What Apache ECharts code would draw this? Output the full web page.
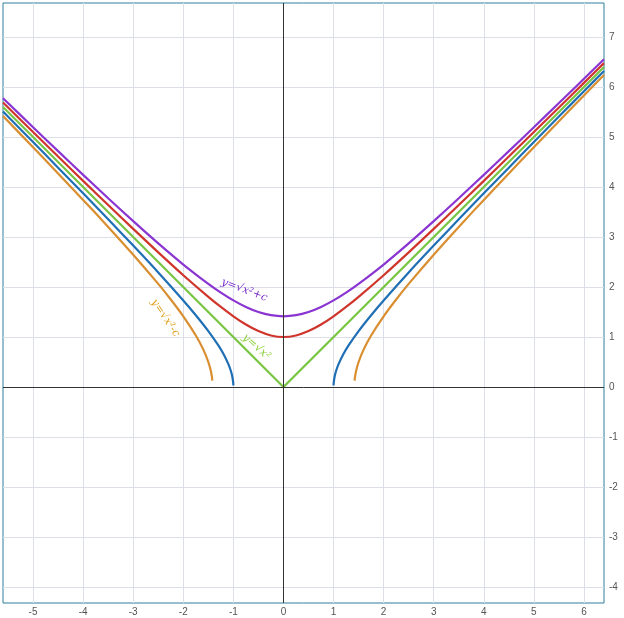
<!DOCTYPE html>
<html>
<head>
<meta charset="utf-8">
<script src="https://cdn.jsdelivr.net/npm/echarts@6/dist/echarts.min.js"></script>
<style>
html,body{margin:0;padding:0;background:#fff;}
#c{width:624px;height:618px;}
</style>
</head>
<body>
<div id="c"></div>
<script>
const xTicks = [-5, -4, -3, -2, -1, 0, 1, 2, 3, 4, 5, 6];
const yTicks = [-4, -3, -2, -1, 0, 1, 2, 3, 4, 5, 6, 7];

const purpleX = [-5.6,-5,-4.5,-4,-3.5,-3,-2.5,-2,-1.5,-1.25,-1,-0.75,-0.5,-0.25,0,0.25,0.5,0.75,1,1.25,1.5,2,2.5,3,3.5,4,4.5,5,5.5,6,6.4];
const purpleY = [5.776,5.196,4.717,4.243,3.775,3.317,2.872,2.449,2.062,1.887,1.732,1.601,1.5,1.436,1.414,1.436,1.5,1.601,1.732,1.887,2.062,2.449,2.872,3.317,3.775,4.243,4.717,5.196,5.679,6.164,6.554];

const redX = [-5.6,-5,-4.5,-4,-3.5,-3,-2.5,-2,-1.5,-1.25,-1,-0.75,-0.5,-0.25,0,0.25,0.5,0.75,1,1.25,1.5,2,2.5,3,3.5,4,4.5,5,5.5,6,6.4];
const redY = [5.689,5.099,4.610,4.123,3.640,3.162,2.693,2.236,1.803,1.601,1.414,1.25,1.118,1.031,1,1.031,1.118,1.25,1.414,1.601,1.803,2.236,2.693,3.162,3.640,4.123,4.610,5.099,5.590,6.083,6.478];

const greenX = [-5.6, 0, 6.4];
const greenY = [5.6, 0, 6.4];

const blueX = [-5.6,-5,-4.5,-4,-3.5,-3,-2.5,-2,-1.75,-1.5,-1.3,-1.2,-1.1,-1.05,-1.02,-1.005,-1,null,1,1.005,1.02,1.05,1.1,1.2,1.3,1.5,1.75,2,2.5,3,3.5,4,4.5,5,5.5,6,6.4];
const blueY = [5.510,4.899,4.387,3.873,3.354,2.828,2.291,1.732,1.436,1.118,0.831,0.663,0.458,0.320,0.201,0.100,0.03,null,0.03,0.100,0.201,0.320,0.458,0.663,0.831,1.118,1.436,1.732,2.291,2.828,3.354,3.873,4.387,4.899,5.408,5.916,6.321];

const orangeX = [-5.6,-5,-4.5,-4,-3.5,-3,-2.5,-2.25,-2,-1.75,-1.6,-1.5,-1.45,-1.43,-1.42,null,1.42,1.43,1.45,1.5,1.6,1.75,2,2.25,2.5,3,3.5,4,4.5,5,5.5,6,6.4];
const orangeY = [5.418,4.796,4.272,3.742,3.202,2.646,2.062,1.75,1.414,1.031,0.748,0.5,0.320,0.212,0.128,null,0.128,0.212,0.320,0.5,0.748,1.031,1.414,1.75,2.062,2.646,3.202,3.742,4.272,4.796,5.315,5.831,6.242];

const noteText = ['y=\u221Ax\u00B2+c', 'y=\u221Ax\u00B2-c', 'y=\u221Ax\u00B2'];
const noteAt = [[-0.78, 1.94], [-2.36, 1.38], [-0.54, 0.8]];
const noteColor = ['#7b2fc9', '#e0a21f', '#8ccf3a'];
const noteAngle = [-0.36, -0.98, -0.72];

function pairs(xs, ys) {
  return xs.map((x, i) => (x === null ? [null, null] : [x, ys[i]]));
}

const chart = echarts.init(document.getElementById('c'), null, {renderer: 'canvas'});

function lineSeries(name, xs, ys, color, smooth) {
  return {
    name: name, type: 'line', data: pairs(xs, ys), showSymbol: false, symbol: 'none',
    smooth: smooth, connectNulls: false, clip: true,
    lineStyle: {color: color, width: 2.2}, itemStyle: {color: color},
    silent: true, animation: false, z: 3
  };
}

const option = {
  animation: false,
  backgroundColor: '#ffffff',
  grid: {left: 3, right: 20, top: 3, bottom: 15, show: true, borderColor: '#2f7f9c', borderWidth: 1, containLabel: false},
  xAxis: {
    type: 'value', min: -5.6, max: 6.4,
    axisLine: {show: false},
    axisTick: {show: false, customValues: xTicks},
    axisLabel: {customValues: xTicks, color: '#555', fontSize: 10, fontFamily: 'Liberation Sans, Arial, sans-serif', margin: 4},
    splitLine: {show: true, lineStyle: {color: '#dcdfea', width: 1}}
  },
  yAxis: {
    type: 'value', min: -4.32, max: 7.68, position: 'right',
    axisLine: {show: false},
    axisTick: {show: false, customValues: yTicks},
    axisLabel: {customValues: yTicks, color: '#555', fontSize: 10, fontFamily: 'Liberation Sans, Arial, sans-serif', margin: 5},
    splitLine: {show: true, lineStyle: {color: '#dcdfea', width: 1}}
  },
  series: [
    {
      type: 'line', data: [], silent: true, z: 2,
      markLine: {
        silent: true, symbol: 'none', animation: false,
        label: {show: false},
        lineStyle: {color: '#333', width: 1, type: 'solid'},
        data: [{xAxis: 0}, {yAxis: 0}]
      }
    },
    lineSeries('orange', orangeX, orangeY, '#d98e2f', 0.25),
    lineSeries('blue', blueX, blueY, '#1f6fb5', 0.25),
    lineSeries('green', greenX, greenY, '#78c544', false),
    lineSeries('red', redX, redY, '#d0352c', 0.25),
    lineSeries('purple', purpleX, purpleY, '#8a35d2', 0.25)
  ]
};
chart.setOption(option);

const graphics = noteText.map((t, i) => {
  const p = chart.convertToPixel({gridIndex: 0}, noteAt[i]);
  return {
    type: 'text', x: p[0], y: p[1], rotation: noteAngle[i], z: 10,
    style: {text: t, fill: noteColor[i], font: 'italic 11px "DejaVu Serif", serif', align: 'center', verticalAlign: 'middle'}
  };
});
chart.setOption({graphic: graphics});
</script>
</body>
</html>
